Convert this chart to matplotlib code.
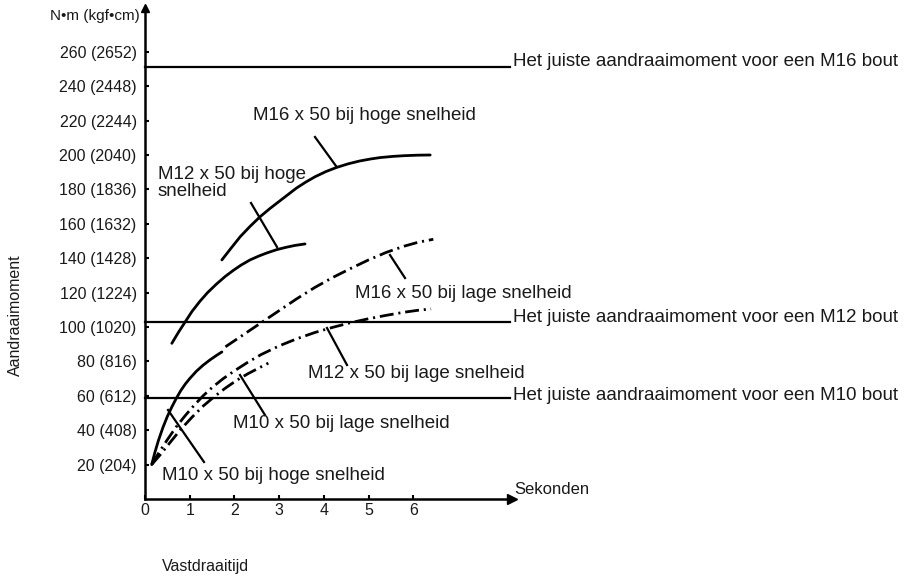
import numpy as np
import matplotlib
matplotlib.use("Agg")
import matplotlib.pyplot as plt

plt.rcParams['font.family'] = ['Liberation Sans', 'DejaVu Sans']
plt.rcParams['lines.scale_dashes'] = False

# ---- data ----
# times in seconds, torque in N·m
m16_hoog_t = [1.72, 1.9, 2.13, 2.35, 2.57, 2.8, 3.0, 3.2, 3.39, 3.6, 3.8, 4.05,
              4.29, 4.55, 4.8, 5.05, 5.26, 5.55, 5.8, 6.1, 6.38]
m16_hoog_v = [139, 145, 152.5, 158.5, 164, 169, 173, 177, 180.8, 184.3, 187.3, 190.4,
              192.8, 194.9, 196.5, 197.7, 198.5, 199.2, 199.6, 199.9, 200]

m12_hoog_t = [0.6, 0.75, 0.9, 1.05, 1.23, 1.4, 1.6, 1.8, 1.98, 2.15, 2.35, 2.55,
              2.72, 2.95, 3.15, 3.35, 3.58]
m12_hoog_v = [90.5, 97, 103, 109, 115, 120, 125, 129.5, 133, 136, 139, 141.3,
              143, 145, 146.3, 147.4, 148.3]

m10_hoog_t = [0.15, 0.22, 0.3, 0.4, 0.5, 0.6, 0.7, 0.8, 0.9, 1.0, 1.15, 1.3,
              1.45, 1.6, 1.72]
m10_hoog_v = [20, 27, 34, 41.5, 48, 53.5, 58.5, 63, 66.8, 70, 74.3, 77.8,
              80.8, 83.5, 85.5]

m16_laag_t = [1.8, 2.2, 2.6, 3.0, 3.4, 3.8, 4.2, 4.6, 5.0, 5.4, 5.8, 6.1, 6.45]
m16_laag_v = [88.5, 95.5, 102.5, 109.5, 116.5, 123, 128.8, 134, 139, 143.4, 147,
              149.2, 151]

m12_laag_t = [0.15, 0.3, 0.5, 0.7, 0.9, 1.1, 1.3, 1.5, 1.75, 2.0, 2.3, 2.6, 3.0,
              3.4, 3.8, 4.2, 4.6, 5.0, 5.4, 5.8, 6.1, 6.4]
m12_laag_v = [20, 26.5, 34.5, 42, 48.5, 54.5, 60, 64.8, 70, 74.5, 79.5, 84, 89,
              93.2, 96.8, 99.8, 102.5, 104.8, 106.8, 108.6, 109.7, 110.5]

m10_laag_t = [0.15, 0.35, 0.55, 0.8, 1.05, 1.3, 1.55, 1.8, 2.05, 2.3, 2.55, 2.76]
m10_laag_v = [20, 26, 32.5, 40.5, 47.5, 54, 59.5, 64.5, 69, 72.8, 76.2, 79]

juist_v = [251, 103, 59]           # correct torque per bolt size
juist_labels = ["Het juiste aandraaimoment voor een M16 bout",
                "Het juiste aandraaimoment voor een M12 bout",
                "Het juiste aandraaimoment voor een M10 bout"]

y_ticks = [20, 40, 60, 80, 100, 120, 140, 160, 180, 200, 220, 240, 260]
y_labels = ["%d (%d)" % (v, round(v * 10.2)) for v in y_ticks]
x_ticks = [0, 1, 2, 3, 4, 5, 6]

# ---- figure ----
W, H = 914, 575
fig = plt.figure(figsize=(W / 100, H / 100), dpi=100)

# axes box in pixels: left 145, right 512, bottom 499, top 8
ax = fig.add_axes([145 / W, 1 - 499 / H, (512 - 145) / W, (499 - 8) / H])
px_per_s = 44.7
px_per_nm = 1.72
ax.set_xlim(0, (512 - 145) / px_per_s)
ax.set_ylim(0, (499 - 8) / px_per_nm)

txt = '#1a1a1a'
for s in ['top', 'right']:
    ax.spines[s].set_visible(False)
for s in ['left', 'bottom']:
    ax.spines[s].set_linewidth(1.8)
# arrow heads on the axes
ax.plot(1, 0, marker='>', color='black', markersize=7, transform=ax.transAxes, clip_on=False)
ax.plot(0, 1, marker='^', color='black', markersize=6, transform=ax.transAxes, clip_on=False)

ax.set_xticks(x_ticks)
ax.set_xticklabels([str(x) for x in x_ticks])
ax.set_yticks(y_ticks)
ax.set_yticklabels(y_labels)
ax.tick_params(direction='in', length=3, width=1.5, labelsize=11.5, colors='black',
               labelcolor=txt)
ax.tick_params(axis='y', pad=6)
ax.tick_params(axis='x', pad=3)

solid = dict(color='black', lw=2.0, solid_capstyle='round', solid_joinstyle='round',
             clip_on=False)
dashdot = dict(color='black', lw=2.0, linestyle=(0, (10, 3.5, 1.5, 3.5)), clip_on=False)

ax.plot(m16_hoog_t, m16_hoog_v, **solid)
ax.plot(m12_hoog_t, m12_hoog_v, **solid)
ax.plot(m10_hoog_t, m10_hoog_v, **solid)
ax.plot(m16_laag_t, m16_laag_v, **dashdot)
ax.plot(m12_laag_t, m12_laag_v, **dashdot)
ax.plot(m10_laag_t, m10_laag_v, **dashdot)

# reference lines for the correct torque
x_end = (510 - 145) / px_per_s
label_dy = [-6, -4, -2]
for v, lab, dy in zip(juist_v, juist_labels, label_dy):
    ax.plot([0, x_end], [v, v], color='black', lw=1.6, clip_on=False)
    ax.text(x_end + 3 / px_per_s, v - dy / px_per_nm, lab, fontsize=13.5,
            color=txt, va='center', ha='left', clip_on=False)


def d(px, py):
    """pixel position -> data position"""
    return (px - 145) / px_per_s, (499 - py) / px_per_nm


def leader(p0, p1):
    a, b = d(*p0), d(*p1)
    ax.plot([a[0], b[0]], [a[1], b[1]], color='black', lw=1.6, clip_on=False)


# curve labels with leader lines
labels = [
    ("M16 x 50 bij hoge snelheid", (253, 115), (315, 137), (336, 166)),
    ("M12 x 50 bij hoge\nsnelheid", (158, 183), (251, 203), (277, 247)),
    ("M16 x 50 bij lage snelheid", (355, 293), (390, 255), (405, 278)),
    ("M12 x 50 bij lage snelheid", (308, 373), (327, 328), (347, 365)),
    ("M10 x 50 bij lage snelheid", (233, 424), (240, 375), (265, 415)),
    ("M10 x 50 bij hoge snelheid", (162, 476), (168, 410), (204, 462)),
]
for lab, tp, l0, l1 in labels:
    x, y = d(*tp)
    ax.text(x, y, lab, fontsize=13.5, color=txt, va='center', ha='left',
            linespacing=1.05, clip_on=False)
    leader(l0, l1)

x, y = d(514, 489)
ax.text(x, y, "Sekonden", fontsize=12, color=txt, va='center', ha='left')

fig.text(140 / W, 1 - 16 / H, "N•m (kgf•cm)", fontsize=11, color=txt,
         ha='right', va='center')
fig.text(15 / W, 1 - 315 / H, "Aandraaimoment", fontsize=11.5, color=txt,
         ha='center', va='center', rotation=90)
fig.text(162 / W, 1 - 566 / H, "Vastdraaitijd", fontsize=11.5, color=txt,
         ha='left', va='center')

fig.savefig("out.png", dpi=100)
